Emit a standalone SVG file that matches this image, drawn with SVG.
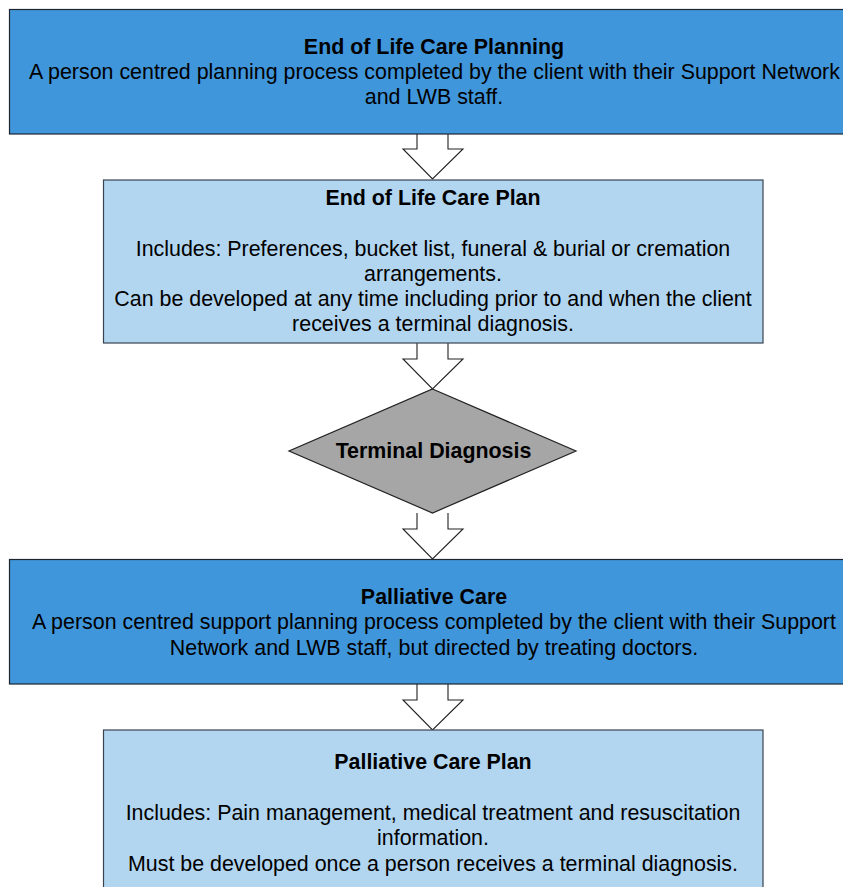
<svg xmlns="http://www.w3.org/2000/svg" width="843" height="887" viewBox="0 0 843 887">
  <defs>
    <style>
      .dark { fill: #4096db; stroke: #1c2530; stroke-width: 1.2; }
      .light { fill: #b2d6f0; stroke: #3a4450; stroke-width: 1.2; }
      .decision { fill: #a6a6a6; stroke: #222222; stroke-width: 1.2; }
      .flow { fill: #ffffff; stroke: #222222; stroke-width: 1.1; stroke-linejoin: miter; }
      text { font-family: "Liberation Sans", Arial, sans-serif; font-size: 21.4px; fill: #000000; text-anchor: middle; }
      .title { font-weight: bold; }
    </style>
  </defs>

  <rect width="843" height="887" fill="#ffffff"/>

  <!-- block arrows between the stages -->
  <g id="connectors">
    <path class="flow" d="M417,134 V149 H403 L432.5,179 L463,149 H448 V134"/>
    <path class="flow" d="M417,343 V359 H403 L432.5,389 L463,359 H448 V343"/>
    <path class="flow" d="M417,513 V529 H403 L432.5,559 L463,529 H448 V513"/>
    <path class="flow" d="M417,684 V700 H403 L432.5,730 L463,700 H448 V684"/>
  </g>

  <g id="eol-planning">
    <rect class="dark" x="9.5" y="9.5" width="850" height="124.5"/>
    <text class="title" x="434" y="53.5">End of Life Care Planning</text>
    <text x="434.5" y="78.5">A person centred planning process completed by the client with their Support Network</text>
    <text x="434" y="103.5">and LWB staff.</text>
  </g>

  <g id="eol-plan">
    <rect class="light" x="103.5" y="180" width="659.5" height="163"/>
    <text class="title" x="433" y="205">End of Life Care Plan</text>
    <text x="433" y="256">Includes: Preferences, bucket list, funeral &amp; burial or cremation</text>
    <text x="433" y="281">arrangements.</text>
    <text x="433" y="306">Can be developed at any time including prior to and when the client</text>
    <text x="433" y="331">receives a terminal diagnosis.</text>
  </g>

  <g id="terminal-diagnosis">
    <polygon class="decision" points="432.5,389 576,451 432.5,513 289,451"/>
    <text class="title" x="433.5" y="458">Terminal Diagnosis</text>
  </g>

  <g id="palliative-care">
    <rect class="dark" x="9.5" y="559.5" width="850" height="124.5"/>
    <text class="title" x="434" y="603.5">Palliative Care</text>
    <text x="434" y="629">A person centred support planning process completed by the client with their Support</text>
    <text x="434" y="655">Network and LWB staff, but directed by treating doctors.</text>
  </g>

  <g id="palliative-plan">
    <rect class="light" x="103.5" y="730" width="659.5" height="170"/>
    <text class="title" x="433" y="769">Palliative Care Plan</text>
    <text x="433" y="820">Includes: Pain management, medical treatment and resuscitation</text>
    <text x="433" y="845">information.</text>
    <text x="433" y="871">Must be developed once a person receives a terminal diagnosis.</text>
  </g>
</svg>
